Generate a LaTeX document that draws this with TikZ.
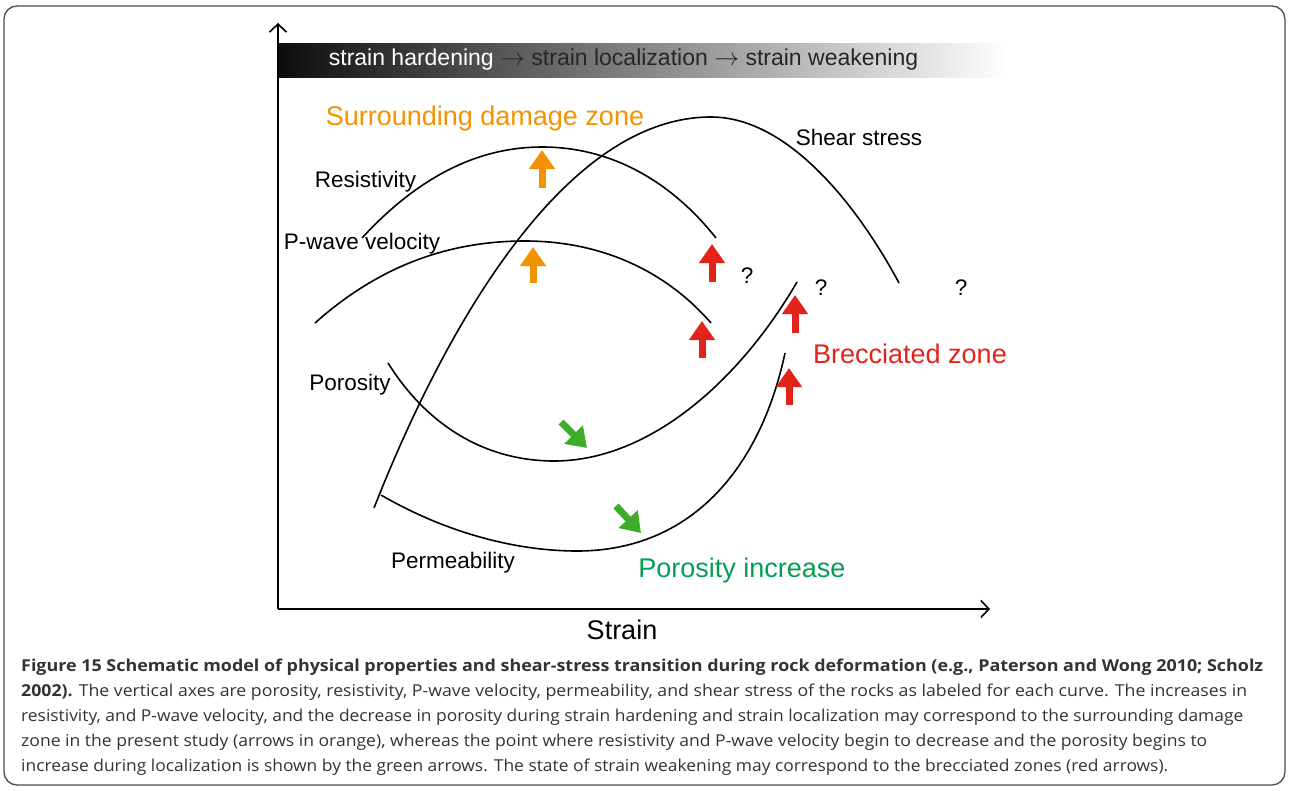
\documentclass[tikz,border=0pt]{standalone}
\usepackage{fontspec}
\setmainfont{Liberation Sans}
\newfontfamily\capfont{Open Sans}
\usetikzlibrary{arrows.meta}
\definecolor{dmgorange}{RGB}{243,146,0}
\definecolor{brecred}{RGB}{226,35,26}
\definecolor{porgreen}{RGB}{0,160,80}
\definecolor{arrgreen}{RGB}{62,172,40}
\tikzset{
	curve/.style={line width=1.6pt},
	fat/.style={line width=7pt, -{Triangle[width=25pt,length=19pt]}},
	lbl/.style={anchor=base, inner sep=0pt, font=\fontsize{22.5}{27}\selectfont},
	zone/.style={anchor=base, inner sep=0pt, font=\fontsize{27}{32}\selectfont},
	capline/.style={anchor=base west, inner sep=0pt, text=black!80, font=\capfont\fontsize{16.4}{20}\selectfont}
}
\newcommand\fitw[2]{\resizebox{#1}{\height}{#2}}
\newcommand\thento{ $\rightarrow$ }
\begin{document}
\begin{tikzpicture}[x=1pt,y=-1pt]
		\useasboundingbox (0,0) rectangle (1290,790);
		\draw[black!70, line width=1.3pt, rounded corners=13pt] (4,6) rectangle (1285,785);
		
		\coordinate (orig) at (278,609);
		\shade[left color=black!95, right color=white] (278,43) rectangle (1008,77);
		\draw[line width=1.6pt, -{Straight Barb[length=8pt,width=17pt]}] (orig) -- (278,23);
		\draw[line width=1.6pt, -{Straight Barb[length=8pt,width=17pt]}] (orig) -- (990,609);
		
		\node[lbl, text=black!85, font=\fontsize{23}{27}\selectfont] (phases) at (623.5,65) {\textcolor{white}{strain hardening}\thento strain localization\thento strain weakening};
		
		\draw[curve] (362,238) .. controls (420,175) and (480,147) .. (542,147) .. controls (610,147) and (670,180) .. (716,238);
		\draw[curve] (315,323) .. controls (380,265) and (450,241) .. (525,241) .. controls (600,241) and (665,270) .. (711,323);
		\draw[curve] (374,508) .. controls (440,340) and (560,117) .. (711,117) .. controls (790,117) and (860,210) .. (899,283);
		\draw[curve] (388,363) .. controls (430,430) and (490,461) .. (554,461) .. controls (650,461) and (740,380) .. (797,282);
		\draw[curve] (381,495) .. controls (450,535) and (520,551) .. (577,551) .. controls (690,551) and (760,470) .. (785,353);
		
		\draw[fat, dmgorange] (542,188) -- (542,150);
		\draw[fat, dmgorange] (533,283) -- (533,247);
		\draw[fat, brecred] (712,282) -- (712,244);
		\draw[fat, brecred] (702,358) -- (702,321);
		\draw[fat, brecred] (795,333) -- (795,295);
		\draw[fat, brecred] (789,405) -- (789,368);
		\draw[fat, arrgreen] (561,422) -- (587,448);
		\draw[fat, arrgreen] (616,506) -- (641,533);
		
		\node[zone, text=dmgorange] (dmg) at (485,125) {Surrounding damage zone};
		\node[zone, text=brecred] (brec) at (910,363) {Brecciated zone};
		\node[zone, text=porgreen] (porinc) at (742,577) {Porosity increase};
		\node[zone] (strain) at (622,639) {Strain};
		
		\node[lbl] (res) at (365.5,187) {Resistivity};
		\node[lbl] (shear) at (859,145) {Shear stress};
		\node[lbl] (pwave) at (362,249) {P-wave velocity};
		\node[lbl] (por) at (350,390) {Porosity};
		\node[lbl] (perm) at (453,568) {Permeability};
		\node[lbl] (qi) at (747,283) {?};
		\node[lbl] (qii) at (821,295) {?};
		\node[lbl] (qiii) at (961,295) {?};
		
		\node[capline] (capi) at (21,671) {\fitw{1242pt}{\bfseries Figure 15 Schematic model of physical properties and shear-stress transition during rock deformation (e.g., Paterson and Wong 2010; Scholz}};
		\node[capline] (capii) at (21,696) {\fitw{1226pt}{\textbf{2002).} The vertical axes are porosity, resistivity, P-wave velocity, permeability, and shear stress of the rocks as labeled for each curve. The increases in}};
		\node[capline] (capiii) at (21,721) {\fitw{1222pt}{resistivity, and P-wave velocity, and the decrease in porosity during strain hardening and strain localization may correspond to the surrounding damage}};
		\node[capline] (capiv) at (21,746) {\fitw{1186pt}{zone in the present study (arrows in orange), whereas the point where resistivity and P-wave velocity begin to decrease and the porosity begins to}};
		\node[capline] (capv) at (21,771) {\fitw{1147pt}{increase during localization is shown by the green arrows. The state of strain weakening may correspond to the brecciated zones (red arrows).}};
\end{tikzpicture}
\end{document}
